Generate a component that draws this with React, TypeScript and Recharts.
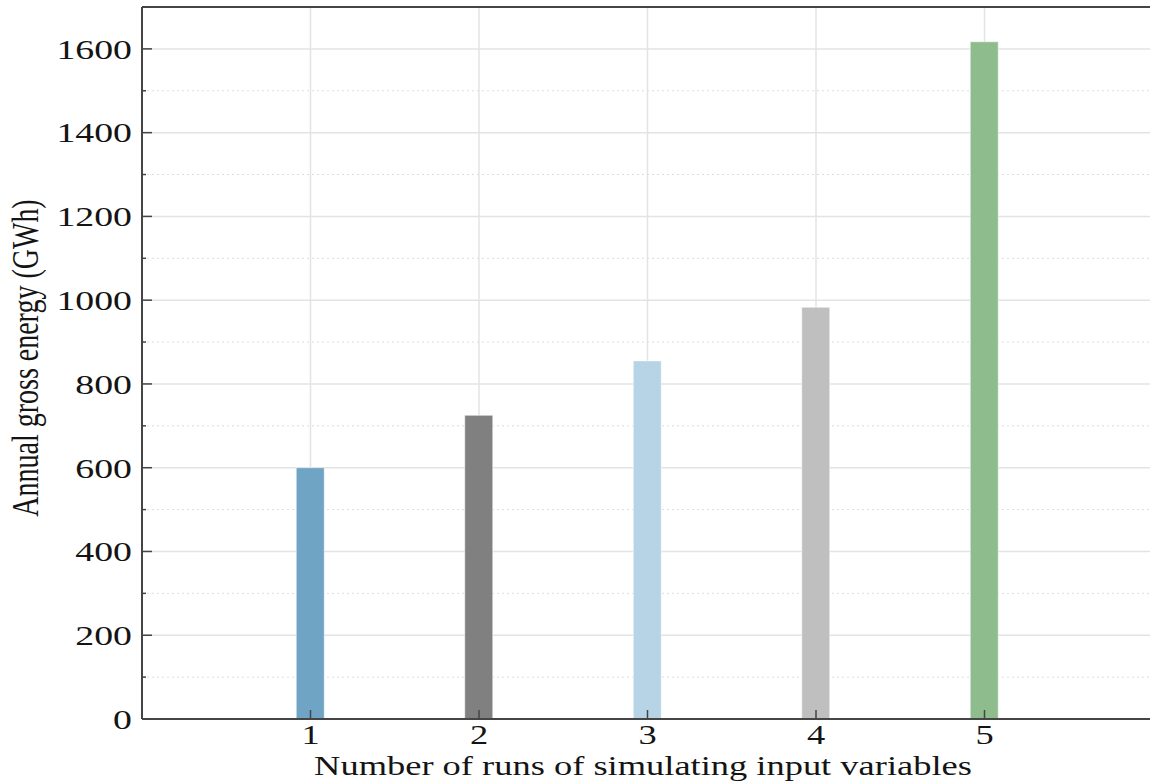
import { BarChart, Bar, Cell, XAxis, YAxis, CartesianGrid, ReferenceLine, Label } from 'recharts'

// runs of simulating input variables vs annual gross energy (GWh)
const runs = [1, 2, 3, 4, 5]
const energy = [600, 725, 855, 983, 1617]
const barColors = ['#6fa4c5', '#808080', '#b6d4e5', '#bfbfbf', '#8fbc8c']

const xTicks = [1, 2, 3, 4, 5]
const yTicks = [0, 100, 200, 300, 400, 500, 600, 700, 800, 900, 1000, 1100, 1200, 1300, 1400, 1500, 1600, 1700]
const yMajor = [0, 200, 400, 600, 800, 1000, 1200, 1400, 1600]
const yMinor = [100, 300, 500, 700, 900, 1100, 1300, 1500]

const data = runs.map((run, i) => ({ run, energy: energy[i] }))

const font = '"Liberation Serif", "Times New Roman", serif'
const ink = '#141414'
const spine = '#454545'
const stretch = 1.35 // the source picture is widened horizontally

function YTick(props: any) {
  const { x, y, payload } = props
  const major = payload.value % 200 === 0 && payload.value <= 1600
  return (
    <g>
      <line x1={x} x2={x + (major ? 10 : 4)} y1={y} y2={y} stroke={spine} strokeWidth={1.5} />
      {major && (
        <text
          transform={`translate(${x - 10},${y}) scale(${stretch},1)`}
          textAnchor="end"
          dy="0.35em"
          fontFamily={font}
          fontSize={28}
          fill={ink}
        >
          {payload.value}
        </text>
      )}
    </g>
  )
}

function XTick(props: any) {
  const { x, y, payload } = props
  return (
    <g>
      <line x1={x} x2={x} y1={y} y2={y - 9} stroke={spine} strokeWidth={1.5} />
      <text
        transform={`translate(${x},${y + 16}) scale(${stretch},1)`}
        textAnchor="middle"
        dy="0.35em"
        fontFamily={font}
        fontSize={27}
        fill={ink}
      >
        {payload.value}
      </text>
    </g>
  )
}

export default function App() {
  return (
    <div style={{ position: 'absolute', left: 0, top: 0, width: 1150, height: 783, overflow: 'hidden', background: '#fff' }}>
      <BarChart
        width={1160}
        height={783}
        data={data}
        margin={{ top: 7, right: 7, bottom: 63, left: 141 }}
      >
        <CartesianGrid
          horizontalValues={yMajor}
          stroke="#e3e3e3"
          strokeWidth={1.5}
        />
        <CartesianGrid
          horizontalValues={yMinor}
          vertical={false}
          stroke="#dddddd"
          strokeWidth={1}
          strokeDasharray="2 3"
        />
        <XAxis
          dataKey="run"
          type="number"
          domain={[0, 6]}
          ticks={xTicks}
          interval={0}
          allowDataOverflow
          height={1}
          tickSize={0}
          tickMargin={0}
          tickLine={false}
          tick={<XTick />}
          axisLine={{ stroke: spine, strokeWidth: 2 }}
        >
          <Label
            content={() => (
              <text
                transform={`translate(643,775) scale(${stretch},1)`}
                textAnchor="middle"
                fontFamily={font}
                fontSize={27}
                fill={ink}
              >
                Number of runs of simulating input variables
              </text>
            )}
          />
        </XAxis>
        <YAxis
          type="number"
          domain={[0, 1700]}
          ticks={yTicks}
          interval={0}
          width={1}
          tickSize={0}
          tickMargin={0}
          tickLine={false}
          tick={<YTick />}
          axisLine={{ stroke: spine, strokeWidth: 2 }}
        >
          <Label
            content={() => (
              <text
                transform={`translate(38,358) scale(${stretch},1) rotate(-90)`}
                textAnchor="middle"
                fontFamily={font}
                fontSize={28}
                fill={ink}
              >
                Annual gross energy (GWh)
              </text>
            )}
          />
        </YAxis>
        <ReferenceLine y={1700} stroke={spine} strokeWidth={2} />
        <Bar dataKey="energy" barSize={28} isAnimationActive={false} stroke="#ffffff" strokeOpacity={0.5} strokeWidth={1}>
          {data.map((d, i) => (
            <Cell key={d.run} fill={barColors[i]} />
          ))}
        </Bar>
      </BarChart>
    </div>
  )
}
